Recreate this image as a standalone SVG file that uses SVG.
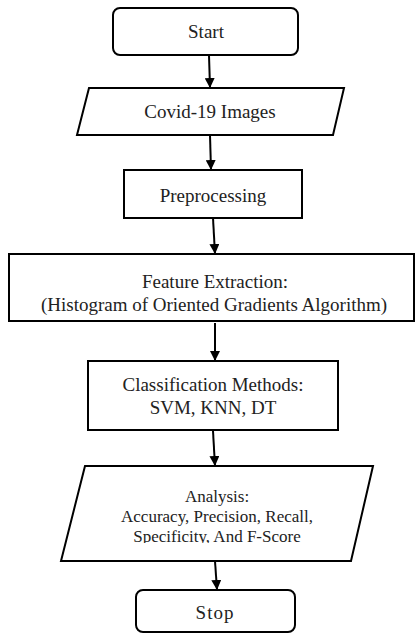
<svg xmlns="http://www.w3.org/2000/svg" width="416" height="633" viewBox="0 0 416 633">
<style>
.box{fill:#fff;stroke:#000;stroke-width:2}
.t{font-family:"Liberation Serif","Times New Roman",serif;font-size:19px;fill:#222;text-anchor:middle}
.s{font-size:17px}
.c{stroke:#000;stroke-width:2;fill:none}
</style>
<defs>
<marker id="ah" viewBox="0 0 10 10" refX="10" refY="5" markerWidth="5" markerHeight="5" orient="auto" markerUnits="strokeWidth">
<path d="M0,0 L10,5 L0,10 z" fill="#000"/>
</marker>
<clipPath id="clipA"><rect x="0" y="460" width="416" height="83"/></clipPath>
</defs>
<rect width="416" height="633" fill="#fff"/>
<g id="connectors">
<line class="c" x1="209" y1="55" x2="210" y2="88" marker-end="url(#ah)"/>
<line class="c" x1="210" y1="135" x2="211" y2="170" marker-end="url(#ah)"/>
<line class="c" x1="213" y1="218" x2="215" y2="254" marker-end="url(#ah)"/>
<line class="c" x1="215" y1="323" x2="215" y2="361" marker-end="url(#ah)"/>
<line class="c" x1="213" y1="431" x2="215" y2="466" marker-end="url(#ah)"/>
<line class="c" x1="215" y1="561" x2="217" y2="590" marker-end="url(#ah)"/>
</g>
<g id="start">
<rect class="box" x="113" y="8" width="185" height="47" rx="7"/>
<text class="t" x="206" y="38">Start</text>
</g>
<g id="covid-images">
<polygon class="box" points="89,88 344,88 333,135 77,135"/>
<text class="t" x="210" y="118">Covid-19 Images</text>
</g>
<g id="preprocessing">
<rect class="box" x="124" y="170" width="178" height="48"/>
<text class="t" x="213" y="202">Preprocessing</text>
</g>
<g id="feature-extraction">
<rect class="box" x="9" y="254" width="405" height="67"/>
<text class="t" x="215" y="288">Feature Extraction:</text>
<text class="t" x="214" y="311">(Histogram of Oriented Gradients Algorithm)</text>
</g>
<g id="classification">
<rect class="box" x="88" y="361" width="250" height="69"/>
<text class="t" x="213" y="391">Classification Methods:</text>
<text class="t" x="213" y="414">SVM, KNN, DT</text>
</g>
<g id="analysis">
<polygon class="box" points="85,466 373,466 351,561 61,561"/>
<g clip-path="url(#clipA)">
<text class="t s" x="217" y="502">Analysis:</text>
<text class="t s" x="217" y="522">Accuracy, Precision, Recall,</text>
<text class="t s" x="217" y="542">Specificity, And F-Score</text>
</g>
</g>
<g id="stop">
<rect class="box" x="136" y="590" width="159" height="42" rx="7"/>
<text class="t" x="215" y="619" letter-spacing="1">Stop</text>
</g>
</svg>
